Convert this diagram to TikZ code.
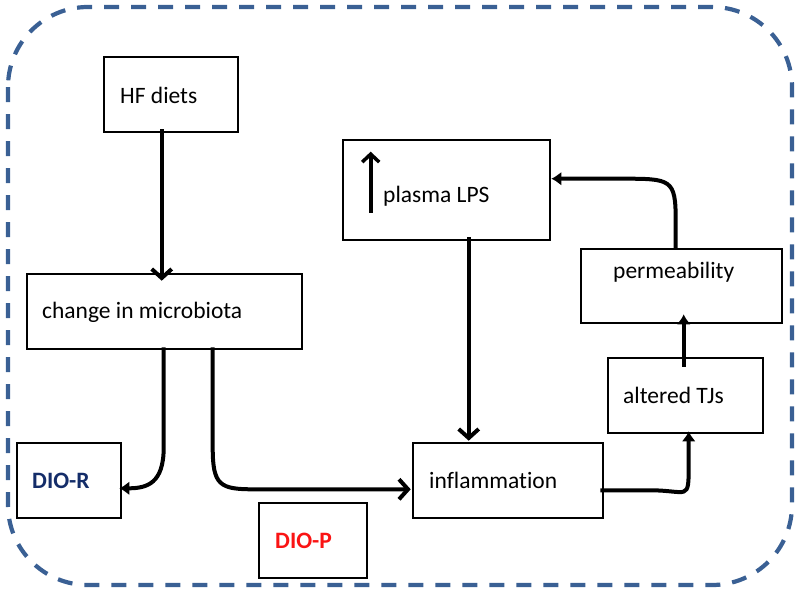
\documentclass[tikz,border=0pt]{standalone}
\usepackage{fontspec}
\setmainfont[Ligatures=NoCommon]{Carlito}
\usetikzlibrary{arrows.meta,calc}
\definecolor{borderblue}{RGB}{58,96,148}
\definecolor{dionavy}{RGB}{20,45,105}
\definecolor{diored}{RGB}{250,20,20}
\begin{document}
\begin{tikzpicture}[x=1pt,y=-1pt,
  box/.style={draw=black,line width=2.6pt,inner sep=0pt,rectangle},
  lbl/.style={anchor=base west,inner sep=0pt,font=\fontsize{23.5}{28}\selectfont},
  bold/.style={anchor=base west,inner sep=0pt,font=\fontsize{23.5}{28}\selectfont\bfseries},
  bigarr/.style={line width=4pt,-{Straight Barb[length=9pt,width=20pt,line width=4pt]}},
  smallarr/.style={line width=4pt,-{Latex[length=10pt,width=14pt]}},
]
\useasboundingbox (0,0) rectangle (800,594);
% dashed frame
\draw[borderblue,line width=4.2pt,dash pattern=on 15pt off 12pt,rounded corners=80pt]
  (8,7) rectangle (792,585);
% boxes
\node[box,minimum width=134pt,minimum height=75pt] (hf) at (171,94.5) {};
\node[box,minimum width=275pt,minimum height=75pt] (chg) at (164.5,311.5) {};
\node[box,minimum width=207pt,minimum height=100pt] (lps) at (446.5,190) {};
\node[box,minimum width=201pt,minimum height=74pt] (perm) at (681.5,286) {};
\node[box,minimum width=155pt,minimum height=75pt] (tjs) at (685.5,395.5) {};
\node[box,minimum width=190pt,minimum height=75pt] (infl) at (508,480.5) {};
\node[box,minimum width=104pt,minimum height=75pt] (dior) at (69,480.5) {};
\node[box,minimum width=108pt,minimum height=75pt] (diop) at (313,540.5) {};
% labels
\node[lbl] (thf) at (120,103) {HF diets};
\node[lbl] (tchg) at (42,318) {change in microbiota};
\node[lbl] (tlps) at (383,202) {plasma LPS};
\node[lbl] (tperm) at (613,278) {permeability};
\node[lbl] (ttjs) at (623,403) {altered TJs};
\node[lbl] (tinfl) at (429,488) {inflammation};
\node[bold,text=dionavy] (tdior) at (32,488) {DIO-R};
\node[bold,text=diored] (tdiop) at (275,548) {DIO-P};
% up arrow inside plasma LPS box
\draw[line width=4pt,-{Straight Barb[length=8pt,width=17pt,line width=3.5pt]}]
  ($(lps.north west)+(29,74)$) -- ($(lps.north west)+(29,13)$);
% connectors
\draw[bigarr] ($(hf.south west)+(59,-4)$) -- ($(chg.north west)+(136,8)$);
\draw[smallarr] ($(chg.south west)+(138,-3)$) -- ++(0,100)
  .. controls +(0,36) and +(28,0) .. ($(dior.south east)+(-3,-31)$);
\draw[bigarr] ($(chg.south west)+(187,-3)$) -- ++(0,100)
  .. controls +(0,38) and +(-34,0) .. ($(chg.south west)+(228,139)$)
  -- ($(infl.south west)+(-1,-30)$);
\draw[bigarr] ($(lps.south west)+(127,-4)$) -- ($(infl.north west)+(57,-1)$);
\draw[smallarr] ($(infl.south east)+(-4,-29)$) -- ++(50,0)
  .. controls +(38,0) and +(0,38) .. ($(tjs.south west)+(82,30)$)
  -- ($(tjs.south west)+(82,-3)$);
\draw[smallarr] ($(tjs.north west)+(77,10)$) -- ($(perm.south west)+(104,-10)$);
\draw[smallarr] ($(perm.north west)+(96,1)$) -- ++(0,-28)
  .. controls +(0,-42) and +(50,0) .. ($(lps.north east)+(70,40)$)
  -- ($(lps.north east)+(0,40)$);
\end{tikzpicture}
\end{document}
